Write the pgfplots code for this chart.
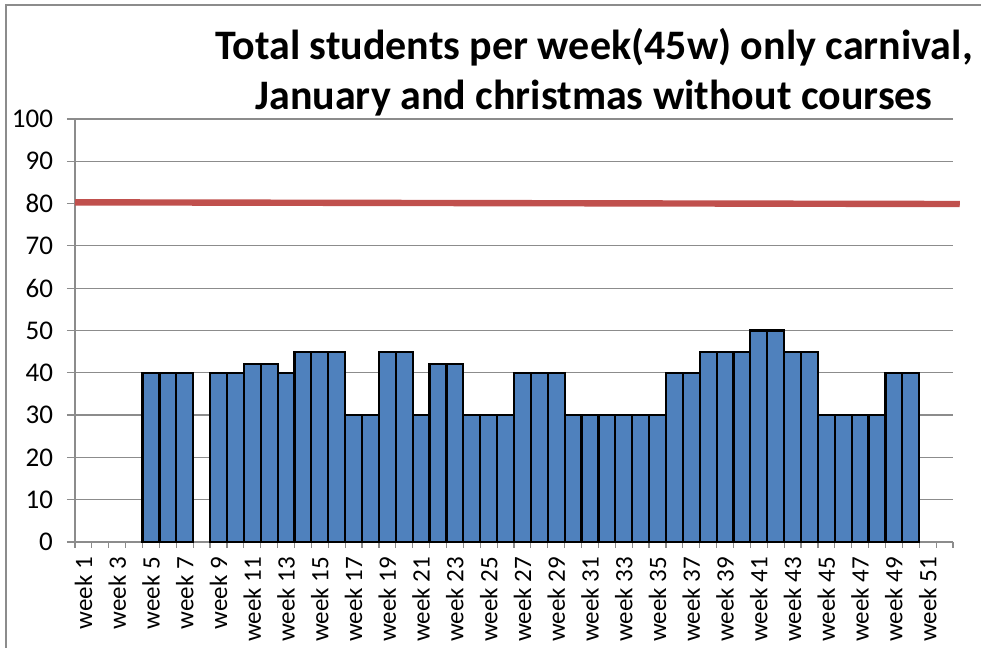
\documentclass[border=0pt]{standalone}
\usepackage{fontspec}
\setmainfont{Carlito}
\usepackage{pgfplots}
\pgfplotsset{compat=1.18}

\definecolor{barblue}{HTML}{4F81BD}
\definecolor{linered}{HTML}{C0504D}
\definecolor{gridgray}{HTML}{8C8C8C}

\begin{document}
\begin{tikzpicture}[x=1pt,y=1pt]
  % page frame (981 x 648 px at 0.5pt per px)
  \path[use as bounding box] (0,0) rectangle (490.5,324);
  \draw[gridgray, line width=1pt] (3,0) -- (3,321.5) -- (490.5,321.5);

  \begin{axis}[
    at={(37.5pt,53pt)}, anchor=south west,
    scale only axis,
    width=439pt, height=211.5pt,
    xmin=0.5, xmax=52.5,
    ymin=0, ymax=100,
    ytick={0,10,...,100},
    xtick={1,3,...,51},
    xticklabels={week 1,week 3,week 5,week 7,week 9,week 11,week 13,week 15,
      week 17,week 19,week 21,week 23,week 25,week 27,week 29,week 31,week 33,
      week 35,week 37,week 39,week 41,week 43,week 45,week 47,week 49,week 51},
    minor xtick={0.5,1.5,...,52.5},
    major x tick style={draw=none},
    minor x tick style={gridgray, line width=0.6pt},
    minor tick length=3pt,
    major tick length=4pt,
    tick align=outside,
    ytick style={gridgray, line width=0.6pt},
    axis x line*=bottom, axis y line*=left,
    axis line style={gridgray, line width=0.6pt, -},
    ymajorgrids=true,
    grid style={gridgray, line width=0.6pt},
    yticklabel style={font=\fontsize{13.5}{16}\selectfont, black, xshift=-3.5pt},
    xticklabel style={font=\fontsize{12.5}{15}\selectfont, black,
      rotate=90, anchor=east},
    /pgf/number format/assume math mode=true,
    clip=false,
  ]
    \addplot[ybar, bar width=1, fill=barblue, draw=black, line width=1.1pt]
      coordinates {
        (5,40) (6,40) (7,40)
        (9,40) (10,40) (11,42) (12,42) (13,40) (14,45) (15,45) (16,45)
        (17,30) (18,30) (19,45) (20,45) (21,30) (22,42) (23,42)
        (24,30) (25,30) (26,30) (27,40) (28,40) (29,40)
        (30,30) (31,30) (32,30) (33,30) (34,30) (35,30)
        (36,40) (37,40) (38,45) (39,45) (40,45) (41,50) (42,50)
        (43,45) (44,45) (45,30) (46,30) (47,30) (48,30) (49,40) (50,40)
      };
    \addplot[linered, line width=3.2pt, no markers]
      coordinates {(0.5,80.3) (52.9,79.9)};
  \end{axis}

  \node[anchor=base, font=\fontsize{21}{25}\selectfont\bfseries]
    at (297,294) {Total students per week(45w) only carnival,};
  \node[anchor=base, font=\fontsize{21}{25}\selectfont\bfseries]
    at (297,269) {January and christmas without courses};
\end{tikzpicture}
\end{document}
